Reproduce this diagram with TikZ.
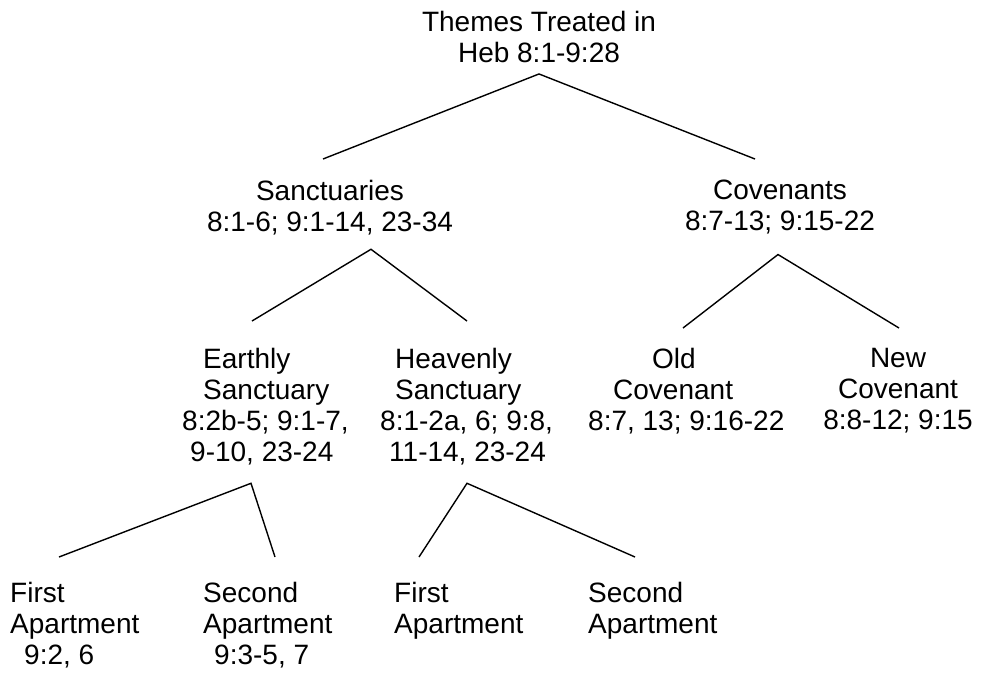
\documentclass[tikz,border=0pt]{standalone}
\usepackage{fontspec}
\setmainfont{Liberation Sans}
\begin{document}
\begin{tikzpicture}[x=1pt,y=1pt,
  every node/.style={inner sep=0pt,font=\fontsize{28}{31}\selectfont},
  topic/.style={align=center,anchor=north},
  leaf/.style={align=left,anchor=north west},
  branch/.style={line width=1.4pt}
]
  \useasboundingbox (0,0) rectangle (985,-673);

  % top of the tree
  \node[topic] (themes) at (539,-11) {Themes Treated in\\Heb 8:1-9:28};

  % second level
  \node[topic] (sanct) at (330,-180) {Sanctuaries\\8:1-6; 9:1-14, 23-34};
  \node[topic] (coven) at (780,-180) {Covenants\\8:7-13; 9:15-22};

  % third level
  \node[leaf] (earthly) at (182,-348) {\hspace*{21pt}Earthly\\\hspace*{21pt}Sanctuary\\8:2b-5; 9:1-7,\\\hspace*{8pt}9-10, 23-24};
  \node[leaf] (heavenly) at (380,-348) {\hspace*{15pt}Heavenly\\\hspace*{15pt}Sanctuary\\8:1-2a, 6; 9:8,\\\hspace*{9pt}11-14, 23-24};
  \node[leaf] (oldcov) at (588,-348) {\hspace*{64pt}Old\\\hspace*{25pt}Covenant\\8:7, 13; 9:16-22};
  \node[topic] (newcov) at (898,-348) {New\\Covenant\\8:8-12; 9:15};

  % apartments
  \node[leaf] (efirst) at (10,-582) {First\\Apartment\\\hspace*{14pt}9:2, 6};
  \node[leaf] (esecond) at (203,-582) {Second\\Apartment\\\hspace*{11pt}9:3-5, 7};
  \node[leaf] (hfirst) at (394,-582) {First\\Apartment};
  \node[leaf] (hsecond) at (588,-582) {Second\\Apartment};

  % branches
  \draw[branch] ([xshift=-7pt,yshift=21pt]sanct.north) -- ([yshift=-11pt]themes.south) -- ([xshift=-25pt,yshift=21pt]coven.north);
  \draw[branch] ([xshift=70pt,yshift=27pt]earthly.north west) -- ([xshift=41pt,yshift=-14pt]sanct.south) -- ([xshift=87pt,yshift=27pt]heavenly.north west);
  \draw[branch] ([xshift=95pt,yshift=20pt]oldcov.north west) -- ([xshift=-2pt,yshift=-20pt]coven.south) -- ([xshift=1pt,yshift=20pt]newcov.north);
  \draw[branch] ([xshift=49pt,yshift=25pt]efirst.north west) -- ([xshift=69pt,yshift=-18pt]earthly.south west) -- ([xshift=72pt,yshift=25pt]esecond.north west);
  \draw[branch] ([xshift=25pt,yshift=25pt]hfirst.north west) -- ([xshift=87pt,yshift=-18pt]heavenly.south west) -- ([xshift=47pt,yshift=25pt]hsecond.north west);
\end{tikzpicture}
\end{document}
